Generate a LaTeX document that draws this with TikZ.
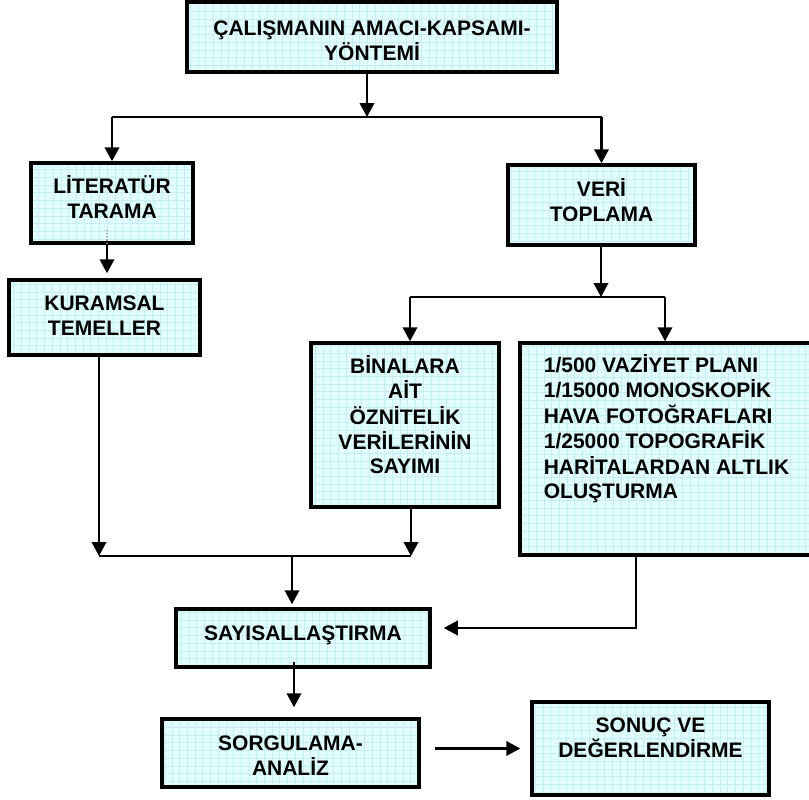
\documentclass[tikz,border=0pt]{standalone}
\usepackage{fontspec}
\setmainfont{Liberation Sans}
\usepackage{tikz}
\usetikzlibrary{arrows.meta}
\definecolor{boxfill}{HTML}{E2FDFD}
\definecolor{boxgrid}{HTML}{C6EEF1}
\newcommand{\lifttext}[3]{\raisebox{#1}[\height][\depth]{\begin{tabular}{@{}#2@{}}#3\end{tabular}}}
\tikzstyle{block} = [rectangle, draw, line width=3.5pt, fill=boxfill, inner sep=0pt,
    font=\fontsize{21}{24.2}\selectfont\bfseries,
    path picture={\draw[boxgrid, line width=0.6pt] (path picture bounding box.south west) grid[step=7.7pt] (path picture bounding box.north east);}]
\tikzstyle{line} = [draw, line width=2.2pt, -{Triangle[width=14.5pt,length=14pt]}]
\tikzstyle{link} = [draw, line width=2.2pt]

\begin{document}
\begin{tikzpicture}[x=1pt, y=-1pt]
\useasboundingbox (0,0) rectangle (809,800);
 \node[block, minimum width=370pt, minimum height=70pt] (amac) at (372,37) {\lifttext{-6pt}{c}{ÇALIŞMANIN AMACI-KAPSAMI-\\YÖNTEMİ}};
 \node[block, minimum width=162pt, minimum height=80pt] (lit) at (112,203) {\lifttext{2.3pt}{c}{LİTERATÜR\\TARAMA}};
 \node[block, minimum width=187pt, minimum height=80pt] (veri) at (601.5,205) {\lifttext{1.3pt}{c}{VERİ\\TOPLAMA}};
 \node[block, minimum width=191pt, minimum height=75pt] (kuram) at (104.5,317.5) {\lifttext{-0.7pt}{c}{KURAMSAL\\TEMELLER}};
 \node[block, minimum width=188pt, minimum height=164pt] (bina) at (405,425) {\lifttext{6.8pt}{c}{BİNALARA\\AİT\\ÖZNİTELİK\\VERİLERİNİN\\SAYIMI}};
 \node[block, minimum width=305pt, minimum height=212pt] (plan) at (672.5,449) {\lifttext{18.8pt}{l}{1/500 VAZİYET PLANI\\1/15000 MONOSKOPİK\\HAVA FOTOĞRAFLARI\\1/25000 TOPOGRAFİK\\HARİTALARDAN ALTLIK\\OLUŞTURMA}\hspace*{12pt}};
 \node[block, minimum width=254pt, minimum height=58pt] (sayi) at (303,638) {\lifttext{2.3pt}{c}{SAYISALLAŞTIRMA}};
 \node[block, minimum width=257pt, minimum height=68pt] (sorgu) at (290.5,753) {\lifttext{-5.2pt}{c}{SORGULAMA-\\ANALİZ}};
 \node[block, minimum width=237pt, minimum height=93pt] (sonuc) at (650.5,748.5) {\lifttext{8.3pt}{c}{SONUÇ VE\\DEĞERLENDİRME}};

 \coordinate (top) at (367,117);
 \coordinate (split) at (601,297);
 \coordinate (jl) at (99,556);
 \coordinate (jr) at (411,556);
 \coordinate (jm) at (292,556);
 \coordinate (turn) at (636,628);
 \coordinate (drop) at (665,297);

\path[line] ([xshift=-5pt]amac.south) -- (top);
\path[link] (lit |- top) -- (veri |- top);
\path[line] (lit |- top) -- (lit);
\path[line] (veri |- top) -- (veri);
\draw[gray!70, line width=1.2pt, dotted] ([xshift=-5pt,yshift=15pt]lit.south) -- ([xshift=-5pt]lit.south);
\path[line, shorten >=5pt] ([xshift=-5pt]lit.south) -- ([xshift=-5pt]lit.south |- kuram.north);
\path[line] (veri.south -| split) -- (split);
\path[link] ([xshift=5pt]bina.north |- split) -- (drop);
\path[line] ([xshift=5pt]bina.north |- split) -- ([xshift=5pt]bina.north);
\path[line] (drop) -- (drop |- plan.north);
\path[line] (kuram.south -| jl) -- (jl);
\path[line] (bina.south -| jr) -- (jr);
\path[link] (jl) -- (jr);
\path[line, shorten >=3pt] (jm) -- (jm |- sayi.north);
\path[line, shorten >=12pt] (plan.south -| turn) -- (turn) -- (turn -| sayi.east);
\path[line, shorten >=10pt] ([xshift=-9pt,yshift=7pt]sayi.south) -- ([xshift=-9pt]sayi.south |- sorgu.north);
\path[line, shorten <=14pt, shorten >=10pt] (sorgu.east |- sonuc.west) -- (sonuc.west);
\end{tikzpicture}
\end{document}
